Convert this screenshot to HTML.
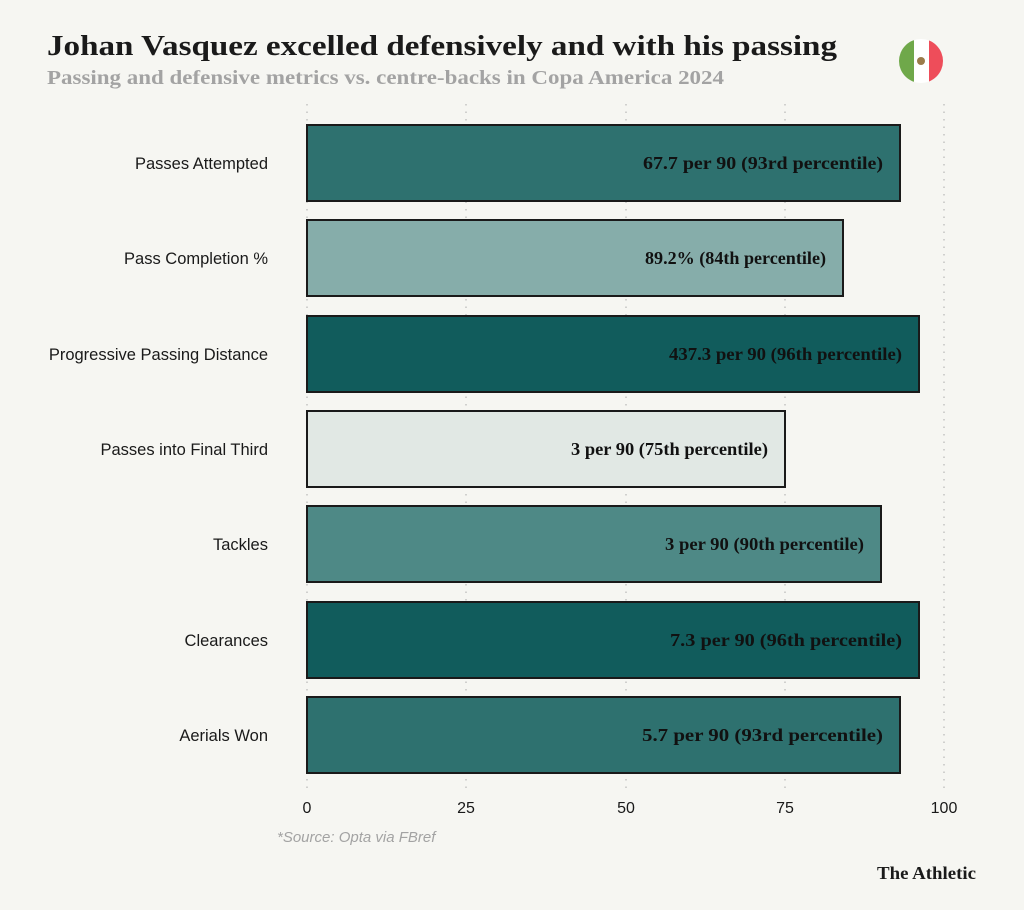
<!DOCTYPE html>
<html><head><meta charset="utf-8"><style>
body{margin:0;background:#f6f6f2;}
</style></head><body>
<svg width="1024" height="910" xmlns="http://www.w3.org/2000/svg" style="display:block">
<rect width="1024" height="910" fill="#f6f6f2"/>
<text x="47" y="55" font-family="Liberation Serif, serif" font-weight="bold" font-size="28" fill="#1a1a1a" textLength="790" lengthAdjust="spacingAndGlyphs">Johan Vasquez excelled defensively and with his passing</text>
<text x="47" y="84" font-family="Liberation Serif, serif" font-weight="bold" font-size="20" fill="#a3a3a3" textLength="677" lengthAdjust="spacingAndGlyphs">Passing and defensive metrics vs. centre-backs in Copa America 2024</text>
<g>
<clipPath id="c"><circle cx="921" cy="61" r="22"/></clipPath>
<g clip-path="url(#c)"><rect x="899" y="39" width="15" height="44" fill="#6fa84a"/><rect x="914" y="39" width="15" height="44" fill="#fff"/><rect x="929" y="39" width="15" height="44" fill="#ee4d5a"/><circle cx="921" cy="61" r="4" fill="#9a7b4a"/></g>
</g>
<g stroke="#bbbbbb" stroke-width="1.3" stroke-dasharray="1.5,6">
<line x1="307" y1="104" x2="307" y2="790"/><line x1="466" y1="104" x2="466" y2="790"/><line x1="626" y1="104" x2="626" y2="790"/><line x1="785" y1="104" x2="785" y2="790"/><line x1="944" y1="104" x2="944" y2="790"/>
</g>
<g stroke="#1a1a1a" stroke-width="2">
<rect x="307" y="125" width="593" height="76" fill="#2e716f"/>
<rect x="307" y="220" width="536" height="76" fill="#86adaa"/>
<rect x="307" y="316" width="612" height="76" fill="#115c5c"/>
<rect x="307" y="411" width="478" height="76" fill="#e1e8e4"/>
<rect x="307" y="506" width="574" height="76" fill="#4e8986"/>
<rect x="307" y="602" width="612" height="76" fill="#115c5c"/>
<rect x="307" y="697" width="593" height="76" fill="#2e716f"/>
</g>
<g font-family="Liberation Serif, serif" font-weight="bold" font-size="18" fill="#111" lengthAdjust="spacingAndGlyphs">
<text x="643" y="169" textLength="240" lengthAdjust="spacingAndGlyphs">67.7 per 90 (93rd percentile)</text>
<text x="645" y="264" textLength="181" lengthAdjust="spacingAndGlyphs">89.2% (84th percentile)</text>
<text x="669" y="360" textLength="233" lengthAdjust="spacingAndGlyphs">437.3 per 90 (96th percentile)</text>
<text x="571" y="455" textLength="197" lengthAdjust="spacingAndGlyphs">3 per 90 (75th percentile)</text>
<text x="665" y="550" textLength="199" lengthAdjust="spacingAndGlyphs">3 per 90 (90th percentile)</text>
<text x="670" y="646" textLength="232" lengthAdjust="spacingAndGlyphs">7.3 per 90 (96th percentile)</text>
<text x="642" y="741" textLength="241" lengthAdjust="spacingAndGlyphs">5.7 per 90 (93rd percentile)</text>
</g>
<g font-family="Liberation Sans, sans-serif" font-size="16.5" fill="#1a1a1a" text-anchor="end">
<text x="268" y="169">Passes Attempted</text>
<text x="268" y="264">Pass Completion %</text>
<text x="268" y="360">Progressive Passing Distance</text>
<text x="268" y="455">Passes into Final Third</text>
<text x="268" y="550">Tackles</text>
<text x="268" y="646">Clearances</text>
<text x="268" y="741">Aerials Won</text>
</g>
<g font-family="Liberation Sans, sans-serif" font-size="16" fill="#1a1a1a" text-anchor="middle">
<text x="307" y="813">0</text><text x="466" y="813">25</text><text x="626" y="813">50</text><text x="785" y="813">75</text><text x="944" y="813">100</text>
</g>
<text x="277" y="842" font-family="Liberation Sans, sans-serif" font-style="italic" font-size="15" fill="#a3a3a3">*Source: Opta via FBref</text>
<text x="976" y="879" text-anchor="end" font-family="Liberation Serif, serif" font-weight="bold" font-size="18" fill="#1a1a1a" textLength="99" lengthAdjust="spacingAndGlyphs">The Athletic</text>
</svg>
</body></html>
